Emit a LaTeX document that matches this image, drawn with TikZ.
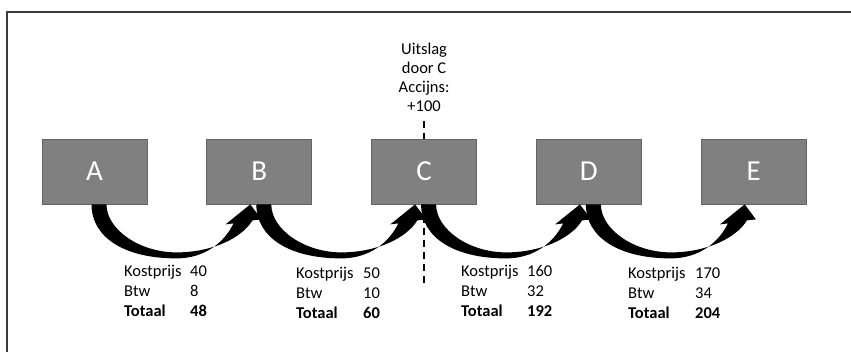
\documentclass[tikz,border=0pt]{standalone}
\usepackage{fontspec}
\setmainfont{Carlito}
\usetikzlibrary{positioning}

\definecolor{boxgray}{RGB}{128,128,128}
\definecolor{boxedge}{RGB}{100,100,100}
\definecolor{framegray}{RGB}{60,60,60}

\begin{document}
\begin{tikzpicture}[x=1pt,y=-1pt,
    box/.style={draw=boxedge,fill=boxgray,line width=0.8pt,minimum width=105pt,minimum height=65pt,inner sep=0pt,text=white,font=\fontsize{29}{34}\selectfont},
    cost/.style={anchor=north west,inner sep=0pt,font=\fontsize{16.5}{20}\selectfont},
    note/.style={align=center,inner sep=0pt,font=\fontsize{16.5}{19}\selectfont},
    cutline/.style={line width=1.8pt,dash pattern=on 7pt off 5pt}]

    \useasboundingbox (0,0) rectangle (851,352);

    % Frame
    \draw [framegray,line width=1.5pt] (7,352) -- (7,12) -- (851,12);

    % Chain of traders
    \node [box] (A) at (94.5,171.5) {A};
    \node [box,right=59pt of A] (B) {B};
    \node [box,right=59pt of B] (C) {C};
    \node [box,right=59pt of C] (D) {D};
    \node [box,right=59pt of D] (E) {E};

    % Excise cut at C
    \coordinate (cuttop) at (C.north |- 0,121);
    \coordinate (cutbot) at (C.south |- 0,286);
    \node [note,anchor=south] (note) at (C.north |- 0,112) {Uitslag\\door C\\Accijns:\\+100};
    \draw [cutline] (cuttop) -- (C.north);
    \draw [cutline] (C.south) -- (cutbot);

    % Curved arrows
    \foreach \from/\to in {A/B,B/C,C/D,D/E}{
        \fill [shift={(\from.south)}] (-3,0) .. controls (-3,33) and (30,54) .. (82,54)
            .. controls (110,54) and (130,38) .. (139,19) -- (131,20)
            -- ([xshift=-9pt]\to.south) -- (167,15) -- (158,16)
            .. controls (147,34) and (117,48) .. (82,48)
            .. controls (45,48) and (12,25) .. (12,0) -- cycle;
    }

    % Prices
    \node [cost] (cost1) at (124,262) {\begin{tabular}{@{}p{66pt}@{}l@{}}Kostprijs & 40\\Btw & 8\\\bfseries Totaal & \bfseries 48\end{tabular}};
    \node [cost] (cost2) at (296,264) {\begin{tabular}{@{}p{67pt}@{}l@{}}Kostprijs & 50\\Btw & 10\\\bfseries Totaal & \bfseries 60\end{tabular}};
    \node [cost] (cost3) at (461,262) {\begin{tabular}{@{}p{66pt}@{}l@{}}Kostprijs & 160\\Btw & 32\\\bfseries Totaal & \bfseries 192\end{tabular}};
    \node [cost] (cost4) at (628,264) {\begin{tabular}{@{}p{67pt}@{}l@{}}Kostprijs & 170\\Btw & 34\\\bfseries Totaal & \bfseries 204\end{tabular}};

\end{tikzpicture}
\end{document}
